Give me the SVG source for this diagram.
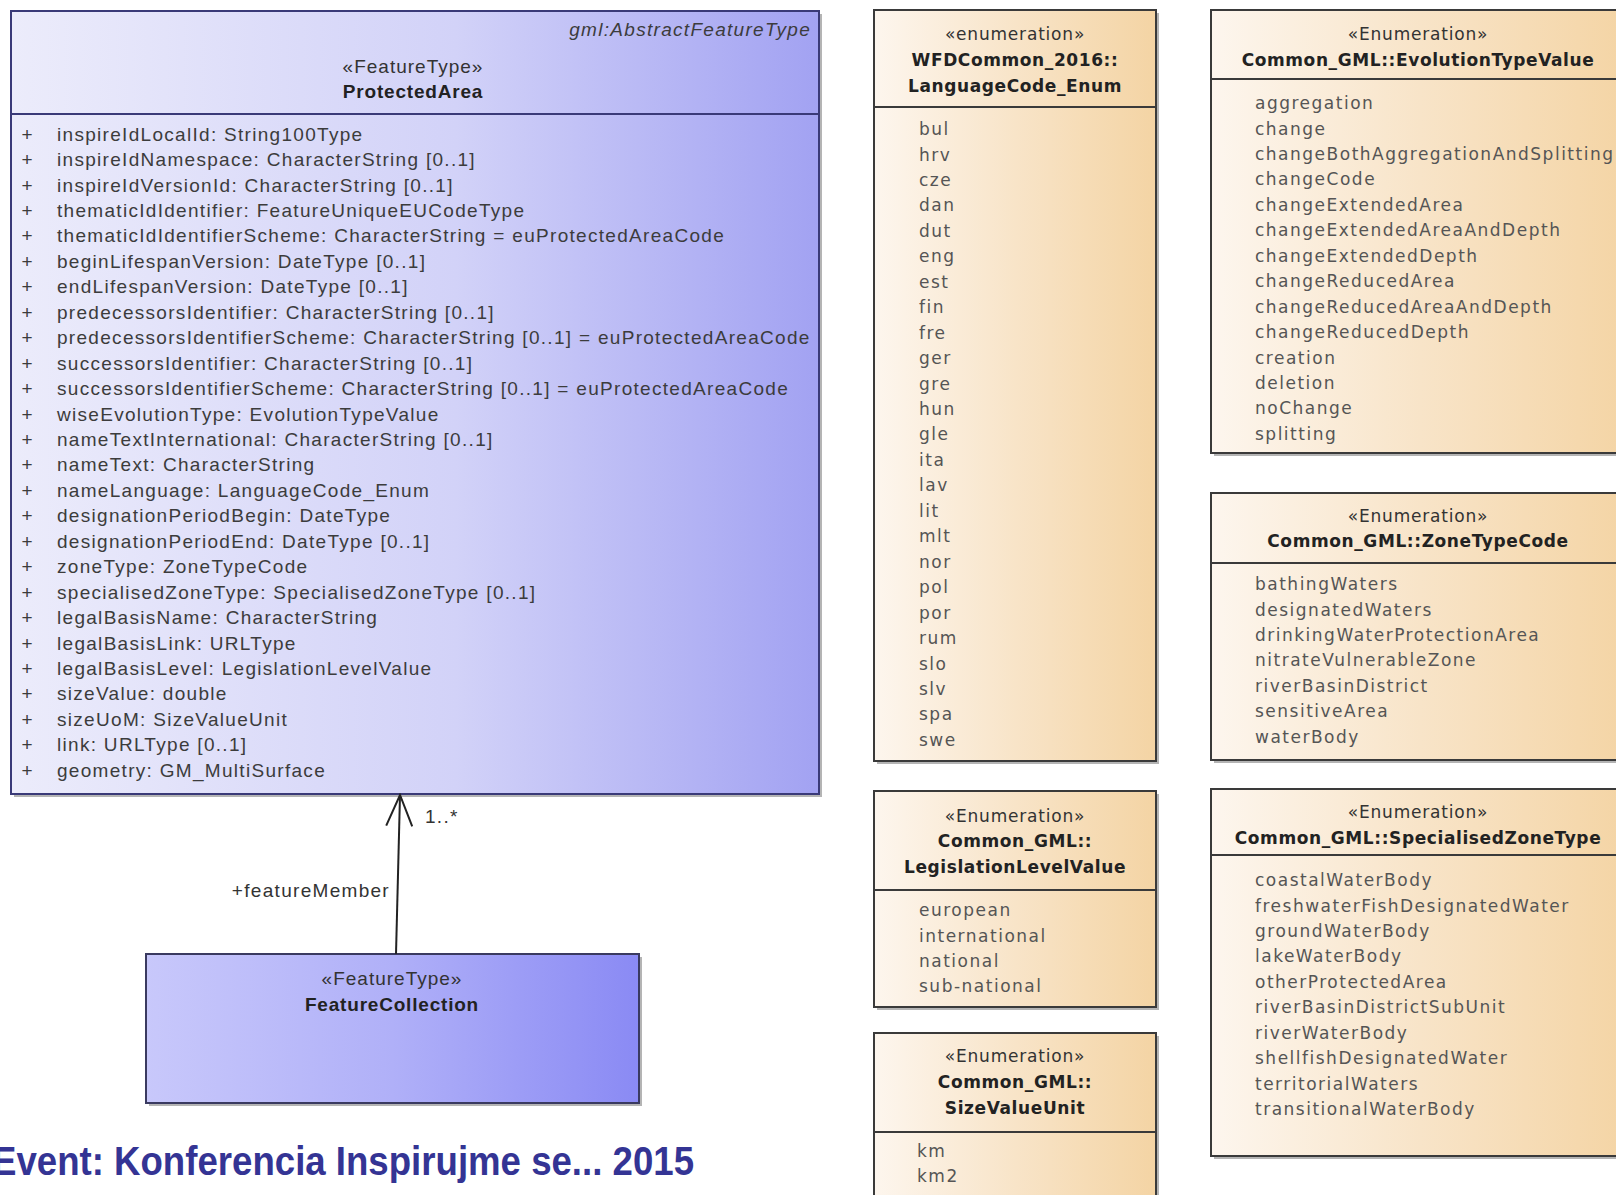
<svg xmlns="http://www.w3.org/2000/svg" width="1616" height="1195" viewBox="0 0 1616 1195">
<defs>
<linearGradient id="gBlue" x1="0" y1="0" x2="1" y2="0">
<stop offset="0" stop-color="#ececfb"/><stop offset="0.55" stop-color="#d2d2f8"/><stop offset="1" stop-color="#a2a2f2"/>
</linearGradient>
<linearGradient id="gBlue2" x1="0" y1="0" x2="1" y2="0">
<stop offset="0" stop-color="#c8c8fb"/><stop offset="0.5" stop-color="#b0b0f8"/><stop offset="1" stop-color="#8a8af4"/>
</linearGradient>
<linearGradient id="gPeach" x1="0" y1="0" x2="1" y2="0">
<stop offset="0" stop-color="#fdf6ee"/><stop offset="0.5" stop-color="#f8e4c8"/><stop offset="1" stop-color="#f4d4a4"/>
</linearGradient>
<marker id="openArrow" markerWidth="40" markerHeight="30" refX="38" refY="15" orient="auto" markerUnits="userSpaceOnUse" viewBox="0 0 40 30">
<path d="M7,2 L38,15 L7,28" fill="none" stroke="#222" stroke-width="2"/>
</marker>
</defs>
<style>
.shadow{fill:#777;opacity:.55}
.blue{fill:url(#gBlue);stroke:#3a3a78;stroke-width:2}
.blue2{fill:url(#gBlue2);stroke:#3a3a60;stroke-width:2}
.enum{fill:url(#gPeach);stroke:#3a3a3a;stroke-width:2}
.div{stroke:#3a3a3a;stroke-width:2}
.divb{stroke:#3a3a78;stroke-width:2}
.attr{font-family:"Liberation Sans",Arial,sans-serif;font-size:19px;letter-spacing:1.3px;fill:#3c3c3c;dominant-baseline:central}
.plus{font-family:"Liberation Sans",Arial,sans-serif;font-size:19px;fill:#3c3c3c;dominant-baseline:central;text-anchor:middle}
.ster{font-family:"Liberation Sans",Arial,sans-serif;font-size:19px;letter-spacing:1px;fill:#333;dominant-baseline:central;text-anchor:middle}
.title{font-family:"Liberation Sans",Arial,sans-serif;font-size:19px;font-weight:bold;letter-spacing:0.8px;fill:#222;dominant-baseline:central;text-anchor:middle}
.item{font-family:"DejaVu Sans",Verdana,sans-serif;font-size:17px;letter-spacing:1.5px;fill:#555;dominant-baseline:central}
.eSter{font-family:"DejaVu Sans",Verdana,sans-serif;font-size:17px;letter-spacing:0.8px;fill:#333;dominant-baseline:central;text-anchor:middle}
.eTitle{font-family:"DejaVu Sans",Verdana,sans-serif;font-size:17px;font-weight:bold;letter-spacing:0.6px;fill:#222;dominant-baseline:central;text-anchor:middle}
.lbl{font-family:"Liberation Sans",Arial,sans-serif;font-size:19px;letter-spacing:1.3px;fill:#333;dominant-baseline:central}
.event{font-family:"Liberation Sans",Arial,sans-serif;font-size:40px;font-weight:bold;fill:#343494}
</style>
<rect width="1616" height="1195" fill="#ffffff"/>

<g id="ProtectedArea">
<rect class="shadow" x="14" y="14" width="808" height="783"/>
<rect class="blue" x="11" y="11" width="808" height="783"/>
<line class="divb" x1="11" y1="114" x2="819" y2="114"/>
<text x="811" y="29" class="attr" text-anchor="end" font-style="italic" letter-spacing="0.5">gml:AbstractFeatureType</text>
<text x="413" y="66" class="ster">«FeatureType»</text>
<text x="413" y="91" class="title">ProtectedArea</text>
<g>
<text class="plus" x="27" y="134">+</text><text class="attr" x="57" y="134">inspireIdLocalId: String100Type</text>
<text class="plus" x="27" y="159.5">+</text><text class="attr" x="57" y="159.5">inspireIdNamespace: CharacterString [0..1]</text>
<text class="plus" x="27" y="185">+</text><text class="attr" x="57" y="185">inspireIdVersionId: CharacterString [0..1]</text>
<text class="plus" x="27" y="210.4">+</text><text class="attr" x="57" y="210.4">thematicIdIdentifier: FeatureUniqueEUCodeType</text>
<text class="plus" x="27" y="235.8">+</text><text class="attr" x="57" y="235.8">thematicIdIdentifierScheme: CharacterString = euProtectedAreaCode</text>
<text class="plus" x="27" y="261.3">+</text><text class="attr" x="57" y="261.3">beginLifespanVersion: DateType [0..1]</text>
<text class="plus" x="27" y="286.7">+</text><text class="attr" x="57" y="286.7">endLifespanVersion: DateType [0..1]</text>
<text class="plus" x="27" y="312.2">+</text><text class="attr" x="57" y="312.2">predecessorsIdentifier: CharacterString [0..1]</text>
<text class="plus" x="27" y="337.6">+</text><text class="attr" x="57" y="337.6">predecessorsIdentifierScheme: CharacterString [0..1] = euProtectedAreaCode</text>
<text class="plus" x="27" y="363">+</text><text class="attr" x="57" y="363">successorsIdentifier: CharacterString [0..1]</text>
<text class="plus" x="27" y="388.5">+</text><text class="attr" x="57" y="388.5">successorsIdentifierScheme: CharacterString [0..1] = euProtectedAreaCode</text>
<text class="plus" x="27" y="414">+</text><text class="attr" x="57" y="414">wiseEvolutionType: EvolutionTypeValue</text>
<text class="plus" x="27" y="439.4">+</text><text class="attr" x="57" y="439.4">nameTextInternational: CharacterString [0..1]</text>
<text class="plus" x="27" y="464.8">+</text><text class="attr" x="57" y="464.8">nameText: CharacterString</text>
<text class="plus" x="27" y="490.3">+</text><text class="attr" x="57" y="490.3">nameLanguage: LanguageCode_Enum</text>
<text class="plus" x="27" y="515.7">+</text><text class="attr" x="57" y="515.7">designationPeriodBegin: DateType</text>
<text class="plus" x="27" y="541.2">+</text><text class="attr" x="57" y="541.2">designationPeriodEnd: DateType [0..1]</text>
<text class="plus" x="27" y="566.6">+</text><text class="attr" x="57" y="566.6">zoneType: ZoneTypeCode</text>
<text class="plus" x="27" y="592">+</text><text class="attr" x="57" y="592">specialisedZoneType: SpecialisedZoneType [0..1]</text>
<text class="plus" x="27" y="617.5">+</text><text class="attr" x="57" y="617.5">legalBasisName: CharacterString</text>
<text class="plus" x="27" y="643">+</text><text class="attr" x="57" y="643">legalBasisLink: URLType</text>
<text class="plus" x="27" y="668.4">+</text><text class="attr" x="57" y="668.4">legalBasisLevel: LegislationLevelValue</text>
<text class="plus" x="27" y="693.8">+</text><text class="attr" x="57" y="693.8">sizeValue: double</text>
<text class="plus" x="27" y="719.3">+</text><text class="attr" x="57" y="719.3">sizeUoM: SizeValueUnit</text>
<text class="plus" x="27" y="744.7">+</text><text class="attr" x="57" y="744.7">link: URLType [0..1]</text>
<text class="plus" x="27" y="770">+</text><text class="attr" x="57" y="770">geometry: GM_MultiSurface</text>
</g>
</g>

<g id="FeatureCollection">
<rect class="shadow" x="149" y="957" width="493" height="149"/>
<rect class="blue2" x="146" y="954" width="493" height="149"/>
<text x="392" y="978" class="ster">«FeatureType»</text>
<text x="392" y="1004" class="title">FeatureCollection</text>
</g>

<g id="connectors">
<line x1="396" y1="954" x2="400" y2="795" stroke="#222" stroke-width="2" marker-end="url(#openArrow)"/>
<text class="lbl" x="425" y="816">1..*</text>
<text class="lbl" x="390" y="890" text-anchor="end">+featureMember</text>
</g>

<g id="LanguageCode_Enum">
<rect class="shadow" x="877" y="13" width="282" height="751"/>
<rect class="enum" x="874" y="10" width="282" height="751"/>
<line class="div" x1="874" y1="107" x2="1156" y2="107"/>
<text class="eSter" x="1015" y="34">«enumeration»</text>
<text class="eTitle" x="1015" y="60">WFDCommon_2016::</text>
<text class="eTitle" x="1015" y="86">LanguageCode_Enum</text>
<text class="item" x="919" y="129">bul</text>
<text class="item" x="919" y="154.5">hrv</text>
<text class="item" x="919" y="179.9">cze</text>
<text class="item" x="919" y="205.4">dan</text>
<text class="item" x="919" y="230.8">dut</text>
<text class="item" x="919" y="256.3">eng</text>
<text class="item" x="919" y="281.7">est</text>
<text class="item" x="919" y="307.2">fin</text>
<text class="item" x="919" y="332.6">fre</text>
<text class="item" x="919" y="358.1">ger</text>
<text class="item" x="919" y="383.5">gre</text>
<text class="item" x="919" y="409">hun</text>
<text class="item" x="919" y="434.4">gle</text>
<text class="item" x="919" y="459.9">ita</text>
<text class="item" x="919" y="485.3">lav</text>
<text class="item" x="919" y="510.8">lit</text>
<text class="item" x="919" y="536.2">mlt</text>
<text class="item" x="919" y="561.7">nor</text>
<text class="item" x="919" y="587.1">pol</text>
<text class="item" x="919" y="612.6">por</text>
<text class="item" x="919" y="638">rum</text>
<text class="item" x="919" y="663.5">slo</text>
<text class="item" x="919" y="688.9">slv</text>
<text class="item" x="919" y="714.4">spa</text>
<text class="item" x="919" y="739.8">swe</text>
</g>

<g id="LegislationLevelValue">
<rect class="shadow" x="877" y="794" width="282" height="216"/>
<rect class="enum" x="874" y="791" width="282" height="216"/>
<line class="div" x1="874" y1="890" x2="1156" y2="890"/>
<text class="eSter" x="1015" y="816">«Enumeration»</text>
<text class="eTitle" x="1015" y="841">Common_GML::</text>
<text class="eTitle" x="1015" y="867">LegislationLevelValue</text>
<text class="item" x="919" y="910">european</text>
<text class="item" x="919" y="935.5">international</text>
<text class="item" x="919" y="960.9">national</text>
<text class="item" x="919" y="986.4">sub-national</text>
</g>

<g id="SizeValueUnit">
<rect class="shadow" x="877" y="1036" width="282" height="180"/>
<rect class="enum" x="874" y="1033" width="282" height="180"/>
<line class="div" x1="874" y1="1132" x2="1156" y2="1132"/>
<text class="eSter" x="1015" y="1056">«Enumeration»</text>
<text class="eTitle" x="1015" y="1082">Common_GML::</text>
<text class="eTitle" x="1015" y="1108">SizeValueUnit</text>
<text class="item" x="917" y="1151">km</text>
<text class="item" x="917" y="1176">km2</text>
</g>

<g id="EvolutionTypeValue">
<rect class="shadow" x="1214" y="13" width="420" height="443"/>
<rect class="enum" x="1211" y="10" width="420" height="443"/>
<line class="div" x1="1211" y1="79" x2="1631" y2="79"/>
<text class="eSter" x="1418" y="34">«Enumeration»</text>
<text class="eTitle" x="1418" y="60">Common_GML::EvolutionTypeValue</text>
<text class="item" x="1255" y="103">aggregation</text>
<text class="item" x="1255" y="128.5">change</text>
<text class="item" x="1255" y="153.9">changeBothAggregationAndSplitting</text>
<text class="item" x="1255" y="179.4">changeCode</text>
<text class="item" x="1255" y="204.8">changeExtendedArea</text>
<text class="item" x="1255" y="230.3">changeExtendedAreaAndDepth</text>
<text class="item" x="1255" y="255.7">changeExtendedDepth</text>
<text class="item" x="1255" y="281.2">changeReducedArea</text>
<text class="item" x="1255" y="306.6">changeReducedAreaAndDepth</text>
<text class="item" x="1255" y="332.1">changeReducedDepth</text>
<text class="item" x="1255" y="357.5">creation</text>
<text class="item" x="1255" y="383">deletion</text>
<text class="item" x="1255" y="408.4">noChange</text>
<text class="item" x="1255" y="433.9">splitting</text>
</g>

<g id="ZoneTypeCode">
<rect class="shadow" x="1214" y="496" width="420" height="267"/>
<rect class="enum" x="1211" y="493" width="420" height="267"/>
<line class="div" x1="1211" y1="563" x2="1631" y2="563"/>
<text class="eSter" x="1418" y="516">«Enumeration»</text>
<text class="eTitle" x="1418" y="541">Common_GML::ZoneTypeCode</text>
<text class="item" x="1255" y="584">bathingWaters</text>
<text class="item" x="1255" y="609.5">designatedWaters</text>
<text class="item" x="1255" y="634.9">drinkingWaterProtectionArea</text>
<text class="item" x="1255" y="660.4">nitrateVulnerableZone</text>
<text class="item" x="1255" y="685.8">riverBasinDistrict</text>
<text class="item" x="1255" y="711.3">sensitiveArea</text>
<text class="item" x="1255" y="736.7">waterBody</text>
</g>

<g id="SpecialisedZoneType">
<rect class="shadow" x="1214" y="792" width="420" height="367"/>
<rect class="enum" x="1211" y="789" width="420" height="367"/>
<line class="div" x1="1211" y1="855" x2="1631" y2="855"/>
<text class="eSter" x="1418" y="812">«Enumeration»</text>
<text class="eTitle" x="1418" y="838">Common_GML::SpecialisedZoneType</text>
<text class="item" x="1255" y="880">coastalWaterBody</text>
<text class="item" x="1255" y="905.5">freshwaterFishDesignatedWater</text>
<text class="item" x="1255" y="930.9">groundWaterBody</text>
<text class="item" x="1255" y="956.4">lakeWaterBody</text>
<text class="item" x="1255" y="981.8">otherProtectedArea</text>
<text class="item" x="1255" y="1007.3">riverBasinDistrictSubUnit</text>
<text class="item" x="1255" y="1032.7">riverWaterBody</text>
<text class="item" x="1255" y="1058.2">shellfishDesignatedWater</text>
<text class="item" x="1255" y="1083.6">territorialWaters</text>
<text class="item" x="1255" y="1109.1">transitionalWaterBody</text>
</g>

<text class="event" x="-8" y="1175" textLength="702" lengthAdjust="spacingAndGlyphs">Event: Konferencia Inspirujme se... 2015</text>
</svg>
